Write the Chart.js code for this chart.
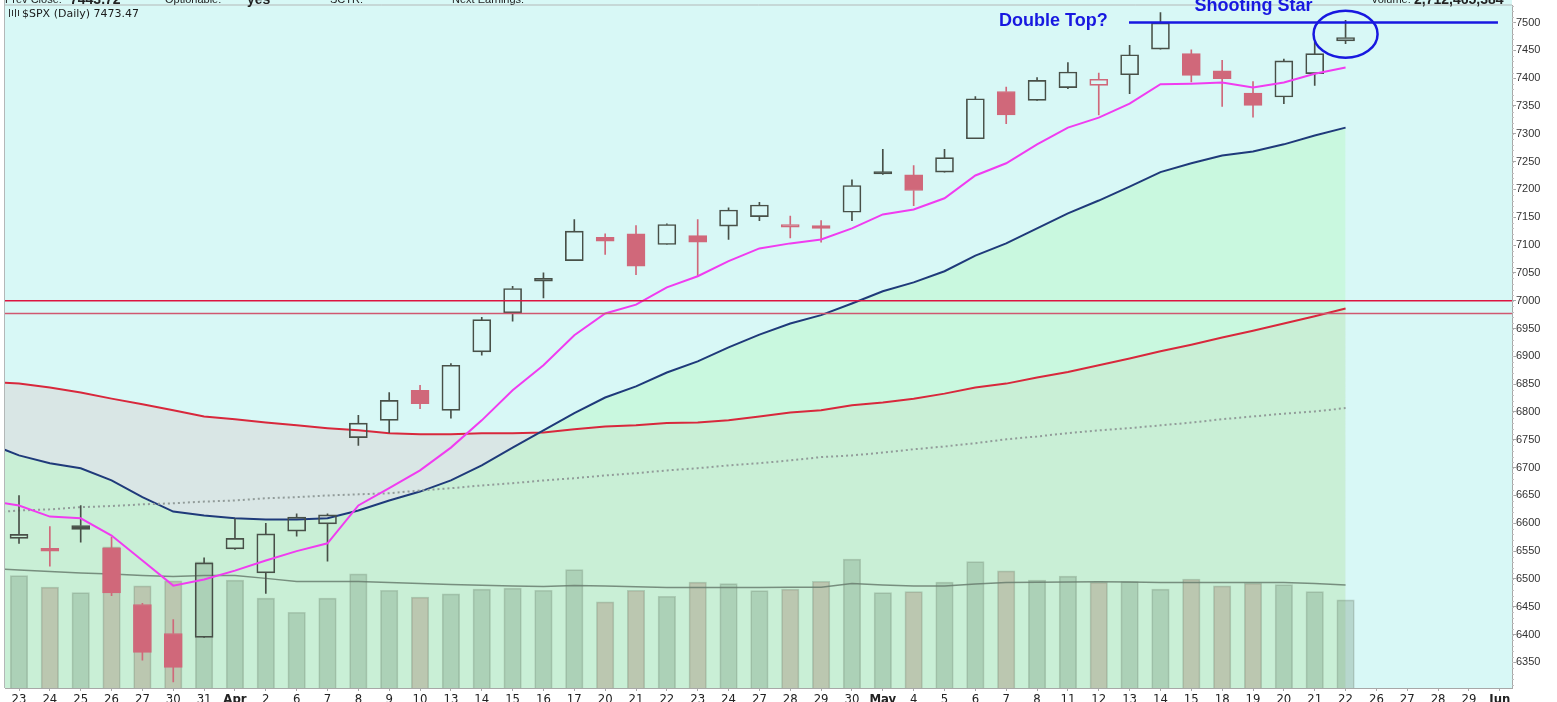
<!DOCTYPE html>
<html>
<head>
<meta charset="utf-8">
<script src="https://cdn.jsdelivr.net/npm/chart.js@4"></script>
<style>
  html, body { margin: 0; padding: 0; background: #fff; }
  canvas { display: block; }
</style>
</head>
<body>
<canvas id="myChart" width="1557" height="702"></canvas>
<script>
// x axis labels (trading days, then the empty days to the right)
const xLabels = ['23','24','25','26','27','30','31','Apr','2','6','7','8','9','10','13','14','15','16','17',
  '20','21','22','23','24','27','28','29','30','May','4','5','6','7','8','11','12','13','14','15',
  '18','19','20','21','22','26','27','28','29','Jun'];

// daily candles, Mar 23 .. May 22
const opens  = [6573,6550,6596,6556,6454,6402,6395,6554,6511,6586,6599,6754,6785,6839,6803,6908,6978,7035,7072,7114,
  7120,7101,7117,7134,7151,7132,7130,7159,7232,7226,7231,7291,7376,7360,7383,7387,7406,7452,7444,7413,7373,7366,7408,7467];
const highs  = [6650,6594,6632,6575,6456,6427,6538,6608,6600,6617,6617,6794,6835,6848,6887,6970,7026,7050,7146,7120,
  7135,7138,7146,7167,7177,7152,7144,7217,7272,7243,7272,7367,7384,7401,7428,7409,7459,7518,7451,7432,7394,7434,7465,7504];
const lows   = [6564,6523,6566,6470,6354,6315,6395,6553,6474,6577,6532,6740,6763,6806,6789,6902,6963,7005,7072,7083,
  7047,7101,7044,7110,7144,7113,7105,7144,7227,7171,7231,7291,7318,7360,7381,7334,7372,7452,7393,7349,7330,7354,7387,7462];
const closes = [6580,6555,6589,6475,6368,6341,6529,6573,6581,6611,6615,6780,6821,6815,6884,6966,7022,7040,7125,7107,
  7062,7137,7105,7163,7172,7137,7135,7207,7228,7198,7257,7363,7334,7396,7411,7398,7442,7499,7405,7399,7351,7431,7444,7473];
const firstPrevClose = 6560;

// volume in millions, Mar 23 .. May 22
const volumes = [3459,3102,2935,4343,3142,3296,3881,3317,2763,2332,2763,3511,3009,2794,2895,3040,3071,3009,3644,2649,
  3009,2824,3256,3212,2997,3040,3286,3964,2935,2966,3256,3890,3604,3317,3440,3256,3274,3040,3348,3142,3225,3182,2966,2710];

// averages start one day earlier (Mar 20, just off the left edge) so the lines reach the frame
const volumeAvg = [3680,3634,3588,3542,3511,3465,3428,3465,3465,3373,3280,3274,3274,3243,3219,3188,3163,3142,3126,3157,3142,
  3117,3095,3089,3092,3095,3098,3101,3219,3172,3142,3142,3203,3249,3255,3265,3271,3265,3243,3243,3243,3243,3243,3219,3172];
const ma10 = [6641,6632,6612,6609,6578,6533,6488,6499,6515,6533,6550,6564,6632,6663,6695,6736,6785,6839,6884,6938,6977,
  6993,7024,7044,7071,7094,7103,7110,7130,7155,7164,7184,7225,7247,7281,7311,7329,7354,7389,7390,7392,7383,7392,7408,7419];
const ma20 = [6744,6722,6708,6699,6677,6647,6621,6614,6609,6607,6607,6609,6623,6641,6657,6677,6704,6736,6767,6798,6826,
  6846,6871,6891,6916,6939,6959,6974,6995,7017,7033,7053,7081,7103,7130,7157,7180,7205,7231,7247,7261,7268,7281,7297,7311];
const ma50 = [6854,6851,6844,6835,6824,6814,6803,6792,6787,6781,6776,6771,6767,6762,6760,6760,6762,6762,6763,6769,6774,
  6776,6780,6781,6785,6792,6799,6803,6812,6817,6824,6833,6844,6851,6862,6872,6884,6896,6909,6921,6934,6946,6959,6972,6986];
const ma200 = [6619,6623,6625,6629,6631,6634,6636,6639,6641,6645,6647,6650,6652,6654,6659,6663,6668,6672,6677,6681,6686,
  6690,6695,6699,6704,6708,6713,6719,6722,6727,6733,6738,6744,6751,6756,6762,6767,6771,6776,6781,6787,6792,6797,6801,6807];

const priceTicks = [6350,6400,6450,6500,6550,6600,6650,6700,6750,6800,6850,6900,6950,7000,7050,7100,7150,7200,7250,
  7300,7350,7400,7450,7500];
const levels = [7000, 6977];
const doubleTop = 7500;

const plotBg = '#d8f8f6';
const redCandle = 'rgb(208,104,122)';
const darkCandle = 'rgb(72,80,72)';

const prevClose = i => i === 0 ? firstPrevClose : closes[i - 1];
const isUp = i => closes[i] >= opens[i];
const isHigher = i => closes[i] >= prevClose(i);
const candleColor = i => isHigher(i) ? darkCandle : redCandle;
const bodyFill = i => isUp(i) ? 'rgba(0,0,0,0)' : candleColor(i);

const pts = arr => arr.map((v, i) => ({x: i, y: v}));
// averages carry the extra leading day at x = -1
const avgPts = arr => arr.map((v, i) => ({x: i - 1, y: v}));

const decor = {
  id: 'decor',
  beforeDraw(chart) {
    const {ctx, chartArea: a} = chart;
    ctx.save();
    ctx.fillStyle = '#fff';
    ctx.fillRect(0, 0, chart.width, chart.height);
    ctx.fillStyle = plotBg;
    ctx.fillRect(a.left, 0, a.right - a.left, a.bottom);
    ctx.strokeStyle = '#b4b8b8';
    ctx.lineWidth = 1;
    ctx.beginPath();
    ctx.moveTo(a.left - 0.5, 0); ctx.lineTo(a.left - 0.5, a.bottom);
    ctx.moveTo(a.left, a.top - 0.5); ctx.lineTo(a.right, a.top - 0.5);
    ctx.stroke();
    ctx.restore();
  },
  afterDatasetsDraw(chart) {
    const {ctx, chartArea: a} = chart;
    const xs = chart.scales.x, ys = chart.scales.y;
    ctx.save();
    // support levels
    levels.forEach((lv, k) => {
      const y = ys.getPixelForValue(lv);
      ctx.strokeStyle = k === 0 ? '#dc1440' : '#d05870';
      ctx.lineWidth = 1.5;
      ctx.beginPath(); ctx.moveTo(a.left, y); ctx.lineTo(a.right, y); ctx.stroke();
    });
    // double top line + circle
    const blue = '#1818e0';
    ctx.strokeStyle = blue;
    ctx.lineWidth = 2.5;
    const yTop = ys.getPixelForValue(doubleTop);
    ctx.beginPath();
    ctx.moveTo(xs.getPixelForValue(35.98), yTop);
    ctx.lineTo(xs.getPixelForValue(47.94), yTop);
    ctx.stroke();
    ctx.beginPath();
    ctx.ellipse(xs.getPixelForValue(43), ys.getPixelForValue(7479), 32, 23.5, 0, 0, Math.PI * 2);
    ctx.stroke();
    ctx.fillStyle = blue;
    ctx.font = 'bold 18px "Liberation Sans", Arial, sans-serif';
    ctx.textBaseline = 'middle';
    ctx.textAlign = 'left';
    ctx.fillText('Double Top?', xs.getPixelForValue(31.77), ys.getPixelForValue(7502));
    ctx.fillText('Shooting Star', xs.getPixelForValue(38.1), ys.getPixelForValue(7530));
    ctx.restore();
  },
  afterDraw(chart) {
    const {ctx, chartArea: a} = chart;
    const ys = chart.scales.y;
    ctx.save();
    // minor ticks on price axis
    ctx.strokeStyle = '#c0c0c0';
    ctx.lineWidth = 1;
    ctx.beginPath();
    for (let v = Math.ceil(ys.min / 10) * 10; v <= ys.max; v += 10) {
      const y = Math.round(ys.getPixelForValue(v)) + 0.5;
      ctx.moveTo(a.right, y); ctx.lineTo(a.right + 2, y);
    }
    ctx.stroke();
    // header row, mostly cut off at the top
    ctx.fillStyle = '#222';
    ctx.textBaseline = 'alphabetic';
    ctx.font = '11px "Liberation Sans", Arial, sans-serif';
    ctx.fillText('Prev Close:', 5, 3);
    ctx.fillText('Optionable:', 165, 3);
    ctx.fillText('SCTR:', 330, 3);
    ctx.fillText('Next Earnings:', 452, 3);
    ctx.fillText('Volume:', 1371, 3);
    ctx.font = 'bold 14px "Liberation Sans", Arial, sans-serif';
    ctx.fillText('7443.72', 70, 4);
    ctx.fillText('yes', 247, 4);
    ctx.fillText('2,712,465,384', 1414, 4);
    // symbol line
    ctx.strokeStyle = '#333';
    ctx.lineWidth = 1;
    ctx.beginPath();
    [9, 12, 15, 18].forEach((x, k) => {
      ctx.moveTo(x + 0.5, 9 + (k % 2));
      ctx.lineTo(x + 0.5, 17 - (k % 2));
    });
    ctx.stroke();
    ctx.font = '11px "DejaVu Sans", Verdana, sans-serif';
    ctx.fillStyle = '#1a1a1a';
    ctx.fillText('$SPX (Daily) 7473.47', 22, 17);
    ctx.restore();
  }
};

const ctx = document.getElementById('myChart').getContext('2d');

const myChart = new Chart(ctx, {
  type: 'bar',
  data: {
    datasets: [
      {
        type: 'line', label: 'MA10', data: avgPts(ma10),
        borderColor: '#f03cf0', borderWidth: 2, pointRadius: 0, order: 1
      },
      {
        label: 'Body', data: opens.map((o, i) => ({x: i, y: [o, closes[i]]})),
        backgroundColor: opens.map((o, i) => bodyFill(i)),
        borderColor: opens.map((o, i) => candleColor(i)),
        borderWidth: 1, borderSkipped: false, barThickness: 18, grouped: false, order: 2
      },
      {
        label: 'Upper wick', data: highs.map((h, i) => ({x: i, y: [Math.max(opens[i], closes[i]), h]})),
        backgroundColor: opens.map((o, i) => candleColor(i)),
        borderWidth: 0, barThickness: 1, grouped: false, order: 3
      },
      {
        label: 'Lower wick', data: lows.map((l, i) => ({x: i, y: [l, Math.min(opens[i], closes[i])]})),
        backgroundColor: opens.map((o, i) => candleColor(i)),
        borderWidth: 0, barThickness: 1, grouped: false, order: 3
      },
      {
        type: 'line', label: 'Volume avg', data: avgPts(volumeAvg), yAxisID: 'vol',
        borderColor: 'rgba(105,125,110,0.85)', borderWidth: 1.5, pointRadius: 0, order: 4
      },
      {
        label: 'Volume', data: pts(volumes), yAxisID: 'vol',
        backgroundColor: volumes.map((v, i) => isHigher(i) ? 'rgba(107,139,111,0.3)' : 'rgba(154,106,91,0.3)'),
        borderColor: 'rgba(100,120,100,0.3)',
        borderWidth: 1, barThickness: 17.5, grouped: false, order: 5
      },
      {
        type: 'line', label: 'MA200', data: avgPts(ma200),
        borderColor: '#929c9a', borderWidth: 2, borderDash: [2, 3], pointRadius: 0, order: 6
      },
      {
        type: 'line', label: 'MA20', data: avgPts(ma20),
        borderColor: '#1f3a7a', borderWidth: 2, pointRadius: 0,
        fill: 'start', backgroundColor: 'rgba(185,247,200,0.5)', order: 7
      },
      {
        type: 'line', label: 'MA50', data: avgPts(ma50),
        borderColor: '#d8283c', borderWidth: 2, pointRadius: 0,
        fill: 'start', backgroundColor: 'rgba(220,200,200,0.36)', order: 8
      }
    ]
  },
  options: {
    responsive: false,
    animation: false,
    events: [],
    layout: { padding: { left: 5, top: 5.5, right: 0, bottom: 0 } },
    plugins: {
      legend: { display: false },
      tooltip: { enabled: false },
      filler: { drawTime: 'beforeDatasetsDraw' }
    },
    scales: {
      x: {
        type: 'linear', min: -0.454, max: 48.395, offset: false,
        afterBuildTicks: scale => { scale.ticks = xLabels.map((l, i) => ({value: i})); },
        afterFit: scale => { scale.height = 14; scale.paddingLeft = 0; scale.paddingRight = 0; },
        grid: { drawOnChartArea: false, offset: false, tickLength: 3, color: '#a8a8a8' },
        border: { color: '#a8a8a8' },
        ticks: {
          autoSkip: false, maxRotation: 0, padding: 1, color: '#222',
          callback: v => xLabels[v] ?? '',
          font: c => ({
            family: '"Liberation Sans Narrow", "DejaVu Sans Condensed", sans-serif',
            size: 13,
            weight: /^[A-Z]/.test(xLabels[c.tick && c.tick.value] || '') ? 'bold' : 'normal'
          })
        }
      },
      y: {
        position: 'right', min: 6304, max: 7530.5,
        afterBuildTicks: scale => { scale.ticks = priceTicks.map(v => ({value: v})); },
        afterFit: scale => { scale.width = 45; scale.paddingTop = 0; scale.paddingBottom = 0; },
        grid: { drawOnChartArea: false, tickLength: 4, color: '#a8a8a8' },
        border: { color: '#a8a8a8' },
        ticks: {
          padding: 0, color: '#333',
          font: { family: '"Liberation Sans", Arial, sans-serif', size: 11 },
          callback: v => String(v)
        }
      },
      vol: { display: false, min: 0, max: 21000 }
    }
  },
  plugins: [decor]
});
</script>
</body>
</html>
